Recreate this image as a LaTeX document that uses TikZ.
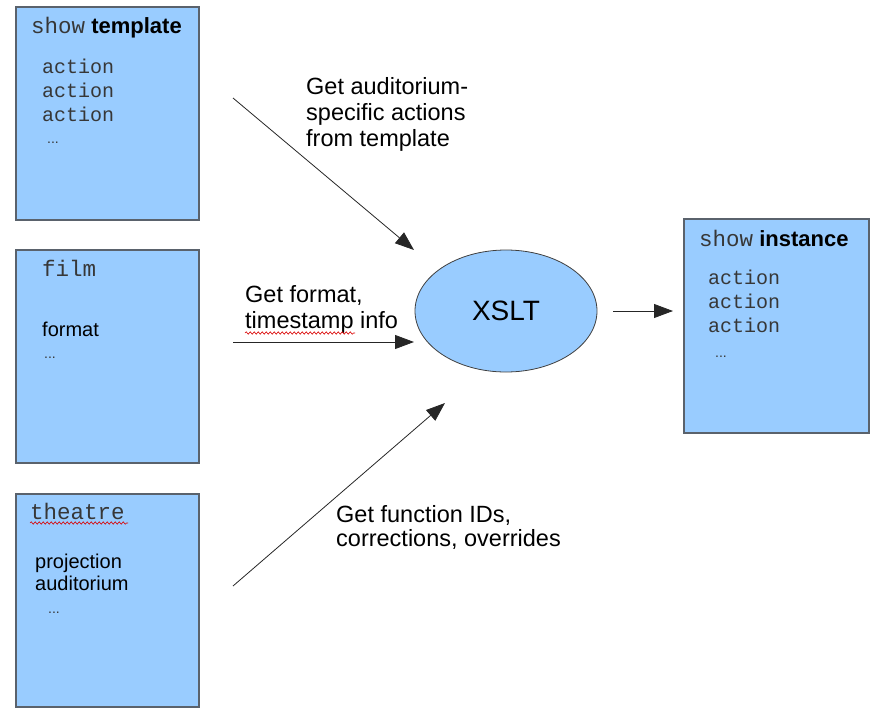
\documentclass[tikz,border=0pt]{standalone}
\usepackage{fontspec}
\setmainfont{Liberation Sans}
\setmonofont{Liberation Mono}
\definecolor{BoxBlue}{RGB}{153,204,255}
\definecolor{EdgeGrey}{RGB}{90,98,108}
\definecolor{CodeGrey}{RGB}{55,55,55}
\usetikzlibrary{arrows.meta,shapes.geometric,decorations.pathmorphing}

\begin{document}
\begin{tikzpicture}[x=1pt,y=-1pt,
  box/.style={draw=EdgeGrey,line width=1.6pt,fill=BoxBlue,minimum width=183pt,minimum height=213pt,anchor=north west,outer sep=0pt,inner sep=0pt},
  flow/.style={-{Triangle[length=19pt,width=14pt]},line width=0.8pt,black!85},
  code/.style={anchor=base west,inner sep=0pt,font=\fontsize{20}{24}\selectfont\ttfamily,CodeGrey},
  item/.style={anchor=base west,inner sep=0pt,font=\fontsize{20}{24}\selectfont},
  dots/.style={anchor=base west,inner sep=0pt,font=\fontsize{14}{16}\selectfont,CodeGrey},
  head/.style={anchor=base west,inner sep=0pt,font=\fontsize{22}{26}\selectfont},
  headtt/.style={head,font=\fontsize{22.5}{26}\selectfont\ttfamily,CodeGrey},
  note/.style={anchor=base west,inner sep=0pt,align=left,font=\fontsize{23.5}{25.5}\selectfont},
  spell/.style={red!85!black,line width=0.6pt,decorate,decoration={snake,amplitude=1.2pt,segment length=4pt}}]
\useasboundingbox (0,0) rectangle (870,707);

\node[box] (tpl) at (16,7) {};
\node[box] (film) at (16,250) {};
\node[box] (thr) at (16,494) {};
\node[box,minimum width=185pt,minimum height=214pt] (inst) at (684,219) {};
\node[ellipse,draw=black!75,line width=0.8pt,fill=BoxBlue,minimum width=182pt,minimum height=122pt,inner sep=0pt,font=\fontsize{28}{32}\selectfont] (xslt) at (506,311) {XSLT};

\node[head] (tpl-t) at (31,33) {\textcolor{CodeGrey}{\fontsize{22.5}{26}\selectfont\ttfamily show} \textbf{template}};
\foreach \y [count=\i] in {73,97,121} \node[code] (tpl-a\i) at (42,\y) {action};
\node[dots] (tpl-d) at (47,143) {...};

\node[headtt] (film-t) at (42,276) {film};
\node[item] (film-f) at (42,336) {format};
\node[dots] (film-d) at (44,358) {...};

\node[headtt] (thr-t) at (30,519) {theatre};
\node[item] (thr-p) at (35,568) {projection};
\node[item] (thr-a) at (35,590) {auditorium};
\node[dots] (thr-d) at (48,613) {...};

\node[head] (inst-t) at (699,246) {\textcolor{CodeGrey}{\fontsize{22.5}{26}\selectfont\ttfamily show} \textbf{instance}};
\foreach \y [count=\i] in {284,308,332} \node[code] (inst-a\i) at (708,\y) {action};
\node[dots] (inst-d) at (715,357) {...};

\node[note,font=\fontsize{23.5}{26}\selectfont] (lbl-tpl) at (306,146) {Get auditorium-\\specific actions\\from template};
\node[note] (lbl-film) at (245,328) {Get format,\\timestamp info};
\node[note,font=\fontsize{23.5}{24}\selectfont] (lbl-thr) at (336,546) {Get function IDs,\\corrections, overrides};

\coordinate (tpl-out) at (233,98);
\coordinate (tpl-in) at (414,250);
\coordinate (film-out) at (233,342);
\coordinate (film-in) at (414,342);
\coordinate (thr-out) at (233,586);
\coordinate (thr-in) at (445,403);
\draw[flow] (tpl-out) -- (tpl-in);
\draw[flow] (film-out) -- (film-in);
\draw[flow] (thr-out) -- (thr-in);
\draw[flow,shorten <=16pt,shorten >=11pt] (xslt.east) -- (xslt.east -| inst.west);

\draw[spell] (30,523) -- (128,523);
\draw[spell] (245,333) -- (355,333);
\end{tikzpicture}
\end{document}
